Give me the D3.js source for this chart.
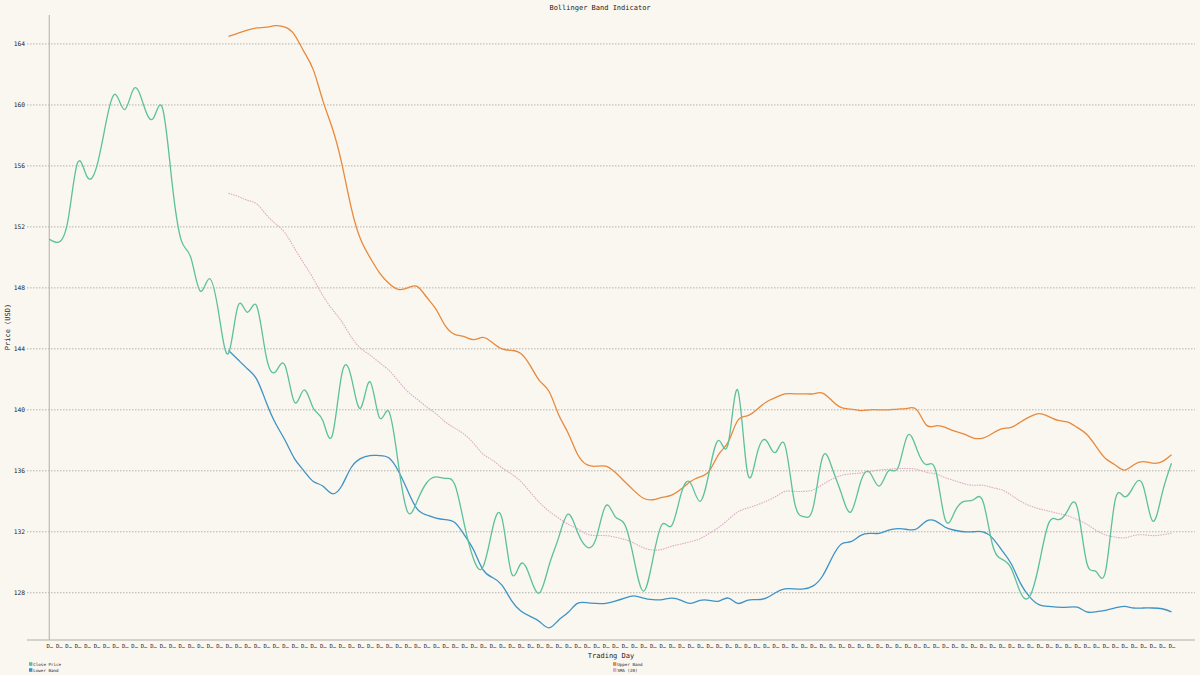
<!DOCTYPE html>
<html><head><meta charset="utf-8">
<script src="https://cdn.jsdelivr.net/npm/d3@7"></script>
<style>
html,body{margin:0;padding:0;background:#faf7f0;}
svg{display:block;}
text{font-family:"DejaVu Sans Mono","Liberation Mono",monospace;fill:#222;}
</style></head>
<body><svg id="chart" width="1200" height="675"></svg>
<script>
const title = "Bollinger Band Indicator";
const xTitle = "Trading Day";
const yTitle = "Price (USD)";
const yTicks = [128,132,136,140,144,148,152,156,160,164];
const dayLabels = d3.range(1,121).map(d => "Day " + d);

const closePrice = [151.2,151.0,152.5,156.2,155.3,155.9,158.8,160.7,159.7,161.1,
160.0,159.1,159.8,155.0,151.1,150.0,147.8,148.6,146.2,143.7,
146.8,146.4,146.8,143.5,142.5,142.9,140.5,141.3,140.1,139.3,
138.3,142.3,142.2,140.1,141.85,139.5,139.9,136.5,133.3,134.0,
135.2,135.6,135.5,135.1,132.5,130.2,129.7,132.2,132.9,129.3,
129.9,129.0,128.0,129.8,131.6,133.15,132.0,131.0,131.6,133.7,
133.0,132.5,130.2,128.1,130.2,132.5,132.4,134.5,135.2,134.0,
136.0,138.0,137.8,141.3,136.0,137.0,138.0,137.2,137.7,134.0,
133.0,133.6,136.9,136.2,134.5,133.3,135.2,135.9,135.0,136.0,
136.2,138.3,137.4,136.4,136.0,132.8,133.3,134.0,134.1,134.0,
131.2,130.2,129.6,128.0,127.8,130.0,132.6,132.8,133.4,133.6,
130.0,129.4,129.4,134.0,134.3,135.0,135.0,132.7,134.5,136.5];

const upperBand = [null,null,null,null,null,null,null,null,null,null,
null,null,null,null,null,null,null,null,null,164.5,
164.7,164.9,165.05,165.1,165.2,165.1,164.6,163.5,162.3,160.3,
158.5,156.2,153.3,151.2,150.0,149.0,148.3,147.9,148.0,148.1,
147.4,146.6,145.5,144.95,144.8,144.6,144.75,144.4,144.0,143.9,
143.7,142.9,141.9,141.2,139.7,138.5,137.1,136.4,136.3,136.3,
135.9,135.3,134.7,134.2,134.1,134.25,134.4,134.8,135.3,135.6,
136.0,137.1,137.9,139.3,139.6,140.0,140.5,140.8,141.05,141.05,
141.05,141.05,141.1,140.6,140.15,140.05,139.95,140.0,140.0,140.0,
140.05,140.1,140.0,139.0,138.95,138.85,138.6,138.4,138.15,138.15,
138.45,138.75,138.85,139.2,139.55,139.75,139.55,139.3,139.2,138.85,
138.4,137.6,136.8,136.4,136.05,136.4,136.6,136.5,136.6,137.05];

const lowerBand = [null,null,null,null,null,null,null,null,null,null,
null,null,null,null,null,null,null,null,null,143.9,
143.3,142.7,142.0,140.5,139.1,138.0,136.8,136.0,135.3,135.0,
134.5,135.0,136.2,136.8,137.0,137.0,136.85,136.0,134.7,133.5,
133.1,132.9,132.8,132.6,131.8,130.8,129.5,129.0,128.5,127.5,
126.8,126.45,126.1,125.7,126.2,126.7,127.3,127.35,127.3,127.3,
127.45,127.65,127.8,127.65,127.55,127.55,127.65,127.5,127.3,127.5,
127.5,127.45,127.65,127.3,127.5,127.55,127.65,128.0,128.25,128.25,
128.25,128.45,129.1,130.3,131.2,131.35,131.75,131.9,131.9,132.1,
132.2,132.15,132.2,132.7,132.7,132.3,132.1,132.0,132.0,132.0,
131.6,130.8,129.9,128.6,127.7,127.2,127.1,127.05,127.05,127.05,
126.75,126.75,126.85,127.0,127.1,127.0,127.0,127.0,126.95,126.75];

const sma20 = [null,null,null,null,null,null,null,null,null,null,
null,null,null,null,null,null,null,null,null,154.2,
154.0,153.75,153.5,152.8,152.2,151.6,150.6,149.6,148.6,147.5,
146.6,145.8,144.8,144.05,143.6,143.1,142.6,141.9,141.2,140.7,
140.2,139.75,139.2,138.8,138.4,137.8,137.1,136.7,136.2,135.8,
135.3,134.6,133.9,133.35,132.9,132.5,132.2,131.85,131.75,131.75,
131.65,131.5,131.25,130.95,130.8,130.85,131.05,131.2,131.35,131.55,
131.9,132.3,132.8,133.3,133.55,133.75,134.0,134.3,134.65,134.65,
134.65,134.75,135.1,135.45,135.7,135.8,135.85,135.95,136.05,136.1,
136.15,136.15,136.1,135.9,135.8,135.55,135.35,135.15,135.05,135.05,
134.9,134.75,134.4,134.0,133.7,133.5,133.35,133.2,133.05,132.8,
132.5,132.1,131.8,131.65,131.6,131.75,131.8,131.75,131.8,131.9];

const seriesNames = ["Close Price","Upper Band","Lower Band","SMA (20)"];
const seriesColors = ["#5cc09c","#e8893c","#3d93c6","#dcaac4"];
const seriesData = [closePrice, upperBand, lowerBand, sma20];

const svg = d3.select("#chart");
const plotLeft = 27, plotRight = 1195, plotTop = 15, plotBottom = 640;

const x = d3.scalePoint().domain(dayLabels).range([49.3, 1171.5]);
const y = d3.scaleLinear().domain([124.9, 165.9]).range([plotBottom, plotTop]);

// gridlines
svg.append("g").selectAll("line").data(yTicks).join("line")
  .attr("x1", plotLeft).attr("x2", plotRight)
  .attr("y1", d => y(d)).attr("y2", d => y(d))
  .attr("stroke", "#b5b2ac").attr("stroke-width", 1)
  .attr("stroke-dasharray", "1.5,1.5");

// y tick labels
const yAxis = d3.axisLeft(y).tickValues(yTicks).tickSize(0).tickPadding(2);
const yg = svg.append("g").attr("transform", `translate(${plotLeft},0)`).call(yAxis);
yg.select(".domain").remove();
yg.selectAll("text").attr("font-size", 6.3).attr("fill", "#333")
  .attr("font-family", "DejaVu Sans Mono, monospace");

// x axis
const xAxis = d3.axisBottom(x).tickSize(0).tickPadding(4)
  .tickFormat(d => d.slice(0,1) + "\u2026");
const xg = svg.append("g").attr("transform", `translate(0,${plotBottom})`).call(xAxis);
xg.select(".domain").remove();
xg.selectAll("text").attr("font-size", 5.5).attr("fill", "#444")
  .attr("font-family", "DejaVu Sans Mono, monospace");
svg.append("line").attr("x1", plotLeft).attr("x2", plotRight)
  .attr("y1", plotBottom).attr("y2", plotBottom)
  .attr("stroke", "#c9c6c0").attr("stroke-width", 1.5);
svg.append("line").attr("x1", 49.3).attr("x2", 49.3)
  .attr("y1", plotTop).attr("y2", plotBottom)
  .attr("stroke", "#bdbab4").attr("stroke-width", 1.2);

// lines
const lineGen = d3.line()
  .x(d => x(d.k)).y(d => y(d.v))
  .curve(d3.curveNatural);

[3,1,2,0].forEach(si => {
  const pts = seriesData[si].map((v,i) => ({k: dayLabels[i], v: v})).filter(d => d.v !== null);
  svg.append("path").datum(pts)
    .attr("fill", "none")
    .attr("stroke", seriesColors[si])
    .attr("stroke-width", si === 3 ? 1.1 : 1.3)
    .attr("stroke-dasharray", si === 3 ? "1.5,1" : null)
    .attr("d", lineGen);
});

// titles
svg.append("text").attr("x", 600).attr("y", 9.5).attr("text-anchor", "middle")
  .attr("font-size", 7).text(title);
svg.append("text").attr("x", 611).attr("y", 657.5).attr("text-anchor", "middle")
  .attr("font-size", 7).text(xTitle);
svg.append("text").attr("transform", "translate(9.5,327) rotate(-90)")
  .attr("text-anchor", "middle").attr("font-size", 7).text(yTitle);

// legend
const legendPos = [[29,664],[613,664],[29,670],[613,670]];
seriesNames.forEach((n,i) => {
  const g = svg.append("g").attr("transform", `translate(${legendPos[i][0]},${legendPos[i][1]})`);
  g.append("rect").attr("x", 0).attr("y", -1.8).attr("width", 3.4).attr("height", 3.6)
    .attr("fill", seriesColors[i]);
  g.append("text").attr("x", 4.3).attr("y", 1.5).attr("font-size", 4.2)
    .attr("fill", "#333").text(n);
});
</script></body></html>
